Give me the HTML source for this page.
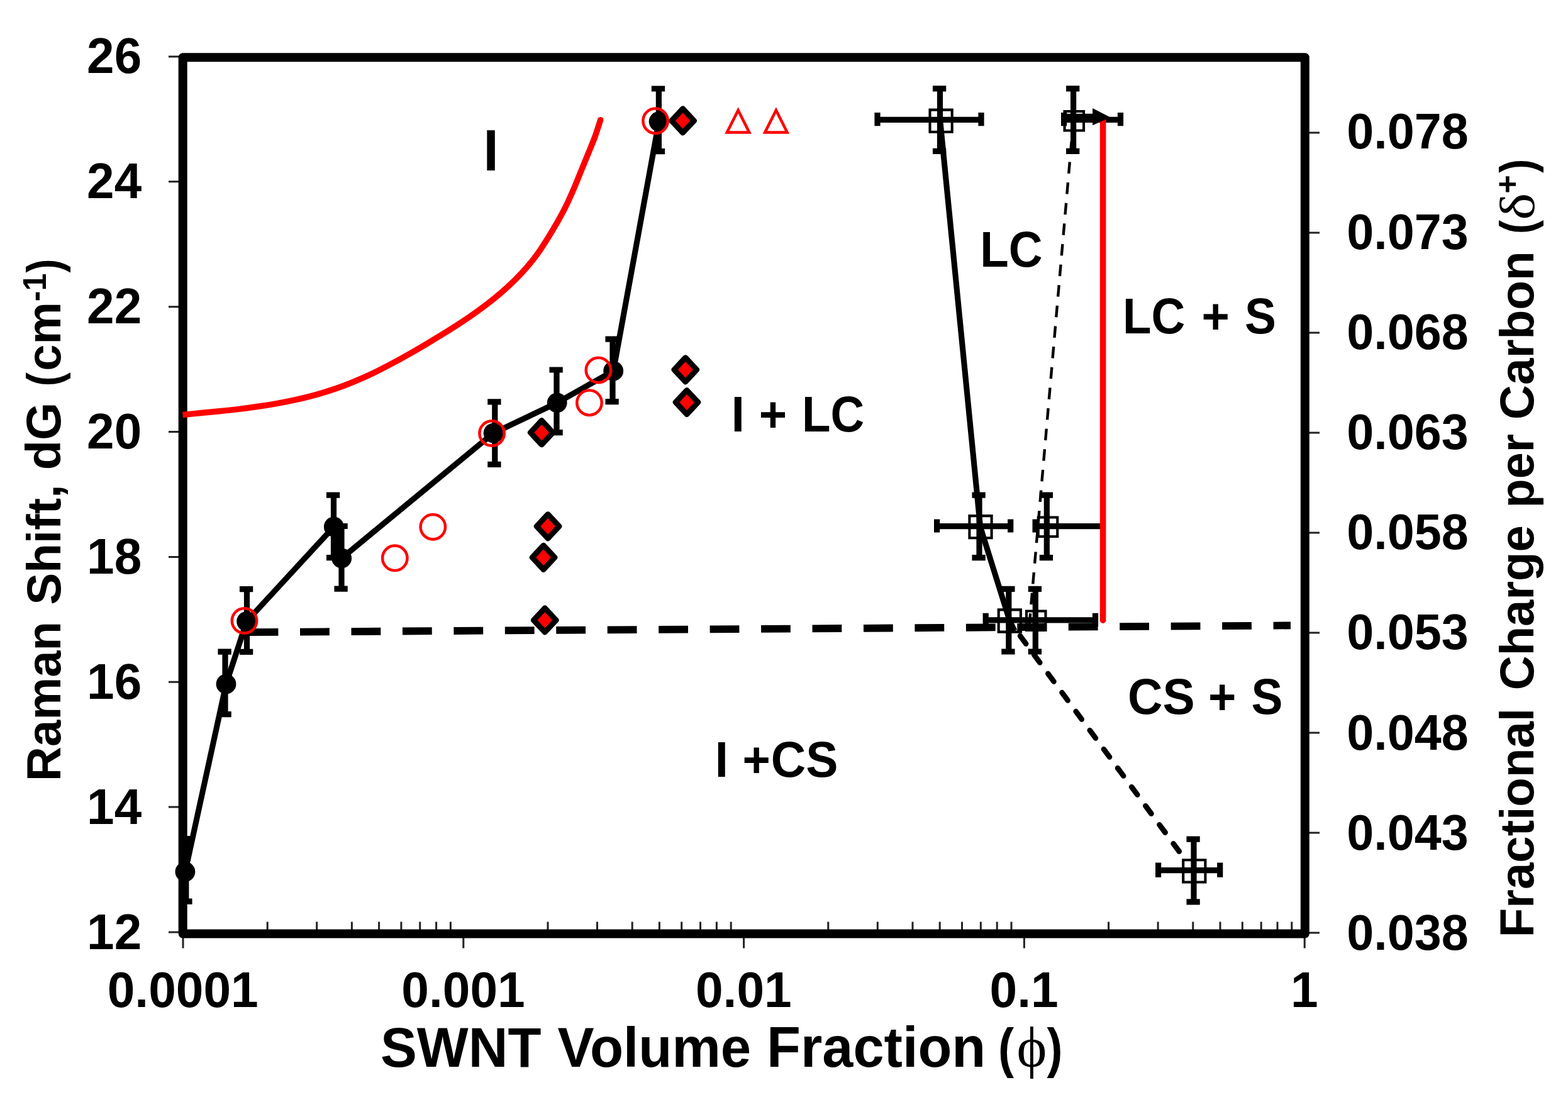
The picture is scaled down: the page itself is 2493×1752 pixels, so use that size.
<!DOCTYPE html>
<html lang="en">
<head>
<meta charset="utf-8">
<title>Raman Shift vs SWNT Volume Fraction phase diagram</title>
<style>
html,body{margin:0;padding:0;background:#fff;}
body{width:2493px;height:1752px;overflow:hidden;}
svg{display:block;}
text{white-space:pre;}
</style>
</head>
<body>
<svg xmlns="http://www.w3.org/2000/svg" width="2493" height="1752" viewBox="0 0 2493 1752">
<defs><filter id="soft" x="0" y="0" width="2493" height="1752" filterUnits="userSpaceOnUse" color-interpolation-filters="sRGB"><feGaussianBlur stdDeviation="0.75"/></filter></defs>
<rect width="2493" height="1752" fill="#fff"/>
<g filter="url(#soft)">
<g stroke="#222" stroke-width="3" fill="none">
<path d="M268,90H286M268,288.85H286M268,487.7H286M268,686.55H286M268,885.4H286M268,1084.25H286M268,1283.1H286M268,1481.95H286M2080,1483H2098M2080,1324H2098M2080,1165H2098M2080,1006H2098M2080,847H2098M2080,688H2098M2080,529H2098M2080,370H2098M2080,211H2098M291,1488V1507.5M736.8,1488V1507.5M1182.6,1488V1507.5M1628.4,1488V1507.5M2074.2,1488V1507.5M425.2,1465.5V1480M503.7,1465.5V1480M559.4,1465.5V1480M602.6,1465.5V1480M637.9,1465.5V1480M667.74,1465.5V1480M693.6,1465.5V1480M716.4,1465.5V1480M871,1465.5V1480M949.5,1465.5V1480M1005.2,1465.5V1480M1048.4,1465.5V1480M1083.7,1465.5V1480M1113.54,1465.5V1480M1139.4,1465.5V1480M1162.2,1465.5V1480M1316.8,1465.5V1480M1395.3,1465.5V1480M1451,1465.5V1480M1494.2,1465.5V1480M1529.5,1465.5V1480M1559.34,1465.5V1480M1585.2,1465.5V1480M1608,1465.5V1480M1762.6,1465.5V1480M1841.1,1465.5V1480M1896.8,1465.5V1480M1940,1465.5V1480M1975.3,1465.5V1480M2005.14,1465.5V1480M2031,1465.5V1480M2053.8,1465.5V1480"/>
</g>
<rect x="290.7" y="91.2" width="1784.1" height="1393.4" fill="none" stroke="#000" stroke-width="14.0" stroke-linejoin="round"/>
<path d="M290.5,659.4C295.37,658.93 309.98,657.53 319.7,656.6C329.42,655.67 339.12,654.8 348.8,653.8C358.48,652.8 368.15,651.77 377.8,650.6C387.45,649.43 397.12,648.17 406.7,646.8C416.28,645.43 425.78,644.05 435.3,642.4C444.82,640.75 454.37,638.9 463.8,636.9C473.23,634.9 482.57,632.82 491.9,630.4C501.23,627.98 510.58,625.3 519.8,622.4C529.02,619.5 538.12,616.42 547.2,613C556.28,609.58 565.35,605.83 574.3,601.9C583.25,597.97 592.12,593.73 600.9,589.4C609.68,585.07 618.35,580.53 627,575.9C635.65,571.27 644.28,566.45 652.8,561.6C661.32,556.75 669.75,551.77 678.1,546.8C686.45,541.83 694.7,536.85 702.9,531.8C711.1,526.75 719.23,521.73 727.3,516.5C735.37,511.27 743.4,505.93 751.3,500.4C759.2,494.87 767.03,489.22 774.7,483.3C782.37,477.38 789.97,471.25 797.3,464.9C804.63,458.55 811.87,451.98 818.7,445.2C825.53,438.42 832.13,431.42 838.3,424.2C844.47,416.98 850.22,409.57 855.7,401.9C861.18,394.23 866.12,386.33 871.2,378.2C876.28,370.07 881.37,361.65 886.2,353.1C891.03,344.55 895.83,335.77 900.2,326.9C904.57,318.03 908.5,308.97 912.4,299.9C916.3,290.83 919.85,281.67 923.6,272.5C927.35,263.33 931.18,254.07 934.9,244.9C938.62,235.73 942.6,226.53 945.9,217.5C949.2,208.47 953.23,195.17 954.7,190.7" fill="none" stroke="#fe0000" stroke-width="9.5" stroke-linejoin="round"/>
<circle cx="954.7" cy="190.7" r="4.75" fill="#fe0000"/>
<line x1="395.6" y1="1005.1" x2="2052" y2="994.4" stroke="#000" stroke-width="11.8" stroke-dasharray="46.8 34.65"/>
<polyline points="294.4,1386 359.5,1087.5 392.1,988 530.8,837.5 543.2,887.4 784.6,688.6 885.7,640.3 975.2,589.8 1047.6,193.2" fill="none" stroke="#000" stroke-width="9.1" stroke-linejoin="round"/>
<polyline points="1494.8,192.2 1558.6,837.7 1605.3,987 1613,1003" fill="none" stroke="#000" stroke-width="9.1" stroke-linejoin="round"/>
<line x1="1706.5" y1="192.2" x2="1636" y2="1000" stroke="#000" stroke-width="4.4" stroke-dasharray="18.5 14.25"/>
<line x1="1622" y1="1011" x2="1878" y2="1358" stroke="#000" stroke-width="8.5" stroke-linecap="round" stroke-dasharray="15.5 21.8"/>
<path d="M295.8,1333.5V1433.1M284.25,1333.5h21.3M284.25,1433.1h21.3M358,1036.1V1135.7M346.45,1036.1h21.3M346.45,1135.7h21.3M392.5,936.7V1036.3M380.95,936.7h21.3M380.95,1036.3h21.3M530.5,787.1V886.7M518.95,787.1h21.3M518.95,886.7h21.3M543,836.5V936.1M531.45,836.5h21.3M531.45,936.1h21.3M786.8,638.8V738.4M775.25,638.8h21.3M775.25,738.4h21.3M885,588V687.6M873.45,588h21.3M873.45,687.6h21.3M974,539.1V638.7M962.45,539.1h21.3M962.45,638.7h21.3M1047.4,141V240.6M1035.85,141h21.3M1035.85,240.6h21.3M1494.5,140.8V240.4M1482.95,140.8h21.3M1482.95,240.4h21.3M1395,190.3H1560M1395,179.1v21.2M1560,179.1v21.2M1706.6,140.8V240.4M1695.05,140.8h21.3M1695.05,240.4h21.3M1691.6,190.3H1781.5M1691.6,179.1v21.2M1781.5,179.1v21.2M1557,787.1V886.7M1545.45,787.1h21.3M1545.45,886.7h21.3M1489.6,836.6H1606.7M1489.6,825.4v21.2M1606.7,825.4v21.2M1664.3,787.1V886.7M1652.75,787.1h21.3M1652.75,886.7h21.3M1646.1,836.6H1752M1646.1,825.4v21.2M1603.8,936.4V1036M1592.25,936.4h21.3M1592.25,1036h21.3M1567.2,985.9H1640M1567.2,974.7v21.2M1646.3,936.4V1036M1634.75,936.4h21.3M1634.75,1036h21.3M1630,985.9H1741.5M1741.5,974.7v21.2M1898,1334.2V1433.8M1886.45,1334.2h21.3M1886.45,1433.8h21.3M1841.6,1383.7H1939.7M1841.6,1371.4v23.4M1939.7,1371.4v23.4" fill="none" stroke="#000" stroke-width="9.2"/>
<line x1="1753.6" y1="190.5" x2="1753.6" y2="986.2" stroke="#fe0000" stroke-width="9.6" stroke-linecap="round"/>
<path d="M1478.5,174.6h35.2v35.2h-35.2zM1692.55,176.95h30.5v30.5h-30.5zM1541.4,820.1h35.2v35.2h-35.2zM1650.75,822.55h30.5v30.5h-30.5zM1587.7,969.4h35.2v35.2h-35.2zM1631.95,971.55h30.5v30.5h-30.5zM1881.2,1367.3h35.2v35.2h-35.2z" fill="none" stroke="#000" stroke-width="4.1"/>
<path d="M1691,185.4H1740" stroke="#000" stroke-width="9.2" fill="none"/>
<path d="M1737.1,172.1L1765.3,186.6L1737.1,199.3Z" fill="#000"/>
<g fill="#000">
<circle cx="294.4" cy="1386" r="15.9"/>
<circle cx="359.5" cy="1087.5" r="15.9"/>
<circle cx="392.1" cy="988" r="15.9"/>
<circle cx="530.8" cy="837.5" r="15.9"/>
<circle cx="543.2" cy="887.4" r="15.9"/>
<circle cx="784.6" cy="688.6" r="15.9"/>
<circle cx="885.7" cy="640.3" r="15.9"/>
<circle cx="975.2" cy="589.8" r="15.9"/>
<circle cx="1047.6" cy="193.2" r="15.9"/>
</g>
<path d="M1085.6,172.7L1103.5,191.9L1085.6,211.1L1067.7,191.9ZM1089.8,568.6L1107.7,587.8L1089.8,607L1071.9,587.8ZM1092,620.4L1109.9,639.6L1092,658.8L1074.1,639.6ZM861.2,668.5L879.1,687.7L861.2,706.9L843.3,687.7ZM871.1,817.6L889,836.8L871.1,856L853.2,836.8ZM864.1,867.1L882,886.3L864.1,905.5L846.2,886.3ZM866.3,966.7L884.2,985.9L866.3,1005.1L848.4,985.9Z" fill="#fe0000" stroke="#000" stroke-width="8.8" stroke-linejoin="round"/>
<g fill="none" stroke="#fe0000" stroke-width="4.5">
<circle cx="388.5" cy="986.9" r="19.7"/>
<circle cx="627.8" cy="887.3" r="19.7"/>
<circle cx="688.3" cy="837.7" r="19.7"/>
<circle cx="782.1" cy="688.9" r="19.7"/>
<circle cx="937" cy="640.2" r="19.7"/>
<circle cx="951.4" cy="588.5" r="19.7"/>
<circle cx="1042.1" cy="192.2" r="19.7"/>
<path d="M1173.6,175.3L1191.3,210.6L1155.9,210.6Z"/>
<path d="M1233.9,175.3L1251.6,210.6L1216.2,210.6Z"/>
</g>
<g font-family="'Liberation Sans', Arial, Helvetica, sans-serif" font-weight="bold" fill="#000">
<text transform="translate(225.2,115.8) scale(1,1.02)" font-size="78.3" text-anchor="end">26</text>
<text transform="translate(225.2,314.8) scale(1,1.02)" font-size="78.3" text-anchor="end">24</text>
<text transform="translate(225.2,513.8) scale(1,1.02)" font-size="78.3" text-anchor="end">22</text>
<text transform="translate(225.2,712.8) scale(1,1.02)" font-size="78.3" text-anchor="end">20</text>
<text transform="translate(225.2,911.8) scale(1,1.02)" font-size="78.3" text-anchor="end">18</text>
<text transform="translate(225.2,1110.8) scale(1,1.02)" font-size="78.3" text-anchor="end">16</text>
<text transform="translate(225.2,1309.8) scale(1,1.02)" font-size="78.3" text-anchor="end">14</text>
<text transform="translate(225.2,1508.8) scale(1,1.02)" font-size="78.3" text-anchor="end">12</text>
<text transform="translate(2141.34,1510) scale(1,1.02)" font-size="77.3">0.038</text>
<text transform="translate(2141.34,1350.8) scale(1,1.02)" font-size="77.3">0.043</text>
<text transform="translate(2141.34,1191.6) scale(1,1.02)" font-size="77.3">0.048</text>
<text transform="translate(2141.34,1032.4) scale(1,1.02)" font-size="77.3">0.053</text>
<text transform="translate(2141.34,873.2) scale(1,1.02)" font-size="77.3">0.058</text>
<text transform="translate(2141.34,714) scale(1,1.02)" font-size="77.3">0.063</text>
<text transform="translate(2141.34,554.8) scale(1,1.02)" font-size="77.3">0.068</text>
<text transform="translate(2141.34,395.6) scale(1,1.02)" font-size="77.3">0.073</text>
<text transform="translate(2141.34,236.4) scale(1,1.02)" font-size="77.3">0.078</text>
<text transform="translate(290.7,1600.6) scale(1,1.02)" font-size="78.5" text-anchor="middle">0.0001</text>
<text transform="translate(736.5,1600.6) scale(1,1.02)" font-size="78.5" text-anchor="middle">0.001</text>
<text transform="translate(1182.3,1600.6) scale(1,1.02)" font-size="78.5" text-anchor="middle">0.01</text>
<text transform="translate(1628.1,1600.6) scale(1,1.02)" font-size="78.5" text-anchor="middle">0.1</text>
<text transform="translate(2073.9,1600.6) scale(1,1.02)" font-size="78.5" text-anchor="middle">1</text>
<text transform="translate(604.9,1696.2) scale(1,1.03)" font-size="86.8">SWNT</text>
<text transform="translate(886.41,1696.2) scale(1,1.03)" font-size="87">Volume</text>
<text transform="translate(1218.99,1696.2) scale(1,1.03)" font-size="88.3">Fraction</text>
<text transform="translate(1586.96,1696.2) scale(0.87,1)" font-size="86.3">(</text>
<text transform="translate(1616.43,1696.2)" font-size="91" font-family="'Liberation Serif', 'DejaVu Serif', serif" font-weight="normal">ϕ</text>
<text transform="translate(1664.43,1696.2) scale(0.87,1)" font-size="86.3">)</text>
<text transform="translate(95.8,1241.9) rotate(-90)" font-size="76.2">Raman</text>
<text transform="translate(95.8,961.8) rotate(-90)" font-size="76.5">Shift,</text>
<text transform="translate(95.8,747.28) rotate(-90)" font-size="77.5">dG</text>
<text transform="translate(95.8,614.19) rotate(-90) scale(0.87,1)" font-size="76">(</text>
<text transform="translate(95.8,589.66) rotate(-90)" font-size="75.8">cm</text>
<text transform="translate(72.6,479.15) rotate(-90) scale(1,1.04)" font-size="50">-1</text>
<text transform="translate(95.8,433.46) rotate(-90) scale(0.87,1)" font-size="76">)</text>
<text transform="translate(2437.5,1490.3) rotate(-90)" font-size="76.25">Fractional</text>
<text transform="translate(2437.5,1097.32) rotate(-90)" font-size="76.1">Charge</text>
<text transform="translate(2437.5,807.48) rotate(-90)" font-size="75.6">per</text>
<text transform="translate(2437.5,667.24) rotate(-90)" font-size="76.6">Carbon</text>
<text transform="translate(2437.5,371.89) rotate(-90) scale(0.87,1)" font-size="76">(</text>
<text transform="translate(2439.3,349.73) rotate(-90) scale(1.17,1)" font-size="78" font-family="'Liberation Serif', 'DejaVu Serif', serif" font-weight="normal">δ</text>
<text transform="translate(2413.5,307.6) rotate(-90) scale(1,1.04)" font-size="50">+</text>
<text transform="translate(2437.5,274.86) rotate(-90) scale(0.87,1)" font-size="76">)</text>
<text transform="translate(768.41,270.5) scale(1,1.06)" font-size="87">I</text>
<text transform="translate(1162.64,685.6) scale(1,1.04)" font-size="76">I</text>
<text transform="translate(1206.85,685.6) scale(1,1.04)" font-size="76">+</text>
<text transform="translate(1274.99,685.6) scale(0.98,1.04)" font-size="76">LC</text>
<text transform="translate(1558.29,423.7) scale(0.98,1.04)" font-size="76">LC</text>
<text transform="translate(1784.99,530.2) scale(0.98,1.04)" font-size="76">LC</text>
<text transform="translate(1910.55,530.2) scale(1,1.04)" font-size="76">+</text>
<text transform="translate(1979.12,530.2) scale(0.985,1.04)" font-size="76">S</text>
<text transform="translate(1793.01,1134.7) scale(1.01,1.04)" font-size="76">CS</text>
<text transform="translate(1921.05,1134.7) scale(1,1.04)" font-size="76">+</text>
<text transform="translate(1989.42,1134.7) scale(0.985,1.04)" font-size="76">S</text>
<text transform="translate(1136.64,1234.7) scale(1,1.04)" font-size="76">I</text>
<text transform="translate(1180.55,1234.7) scale(1,1.04)" font-size="76">+</text>
<text transform="translate(1225.81,1234.7) scale(1.01,1.04)" font-size="76">CS</text>
</g>
</g>
</svg>
</body>
</html>
